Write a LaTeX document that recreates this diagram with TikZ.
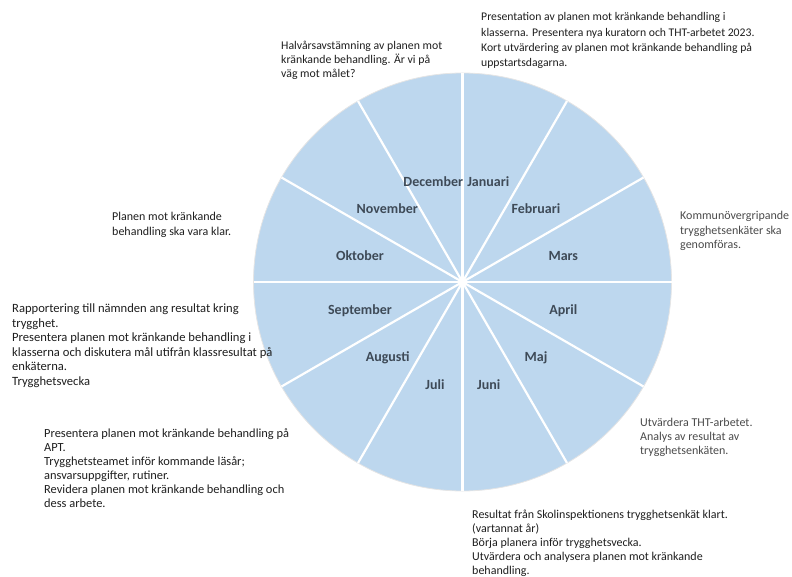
\documentclass[tikz,border=0pt]{standalone}
\usepackage{fontspec}
\setmainfont{Carlito}
\definecolor{wheel}{HTML}{BDD7EE}
\definecolor{monthc}{HTML}{3E4A57}
\definecolor{notec}{HTML}{1E1E1E}
\definecolor{notegray}{HTML}{4A4A4A}
\begin{document}
\begin{tikzpicture}[x=1pt,y=-1pt,
  note/.style={anchor=north west, inner sep=0pt, align=left, text=notec,
    font=\fontsize{12}{14.5}\selectfont},
  month/.style={inner sep=0pt, text=monthc, font=\fontsize{14}{16}\selectfont\bfseries},
  spoke/.style={white, line width=2.2pt}]
\useasboundingbox (0,0) rectangle (792,577);
\coordinate (c) at (462.5,282);
\fill[wheel, draw=white!80!gray, line width=0.8pt] (c) circle (209);
\foreach \a in {0,30,...,330}{\draw[spoke] (c) -- ++(\a:209);}
% months
\node[month] (dec) at (433.3,181.7) {December};
\node[month] (jan) at (488.3,181.7) {Januari};
\node[month] (feb) at (536,208.3) {Februari};
\node[month] (nov) at (387.3,208.3) {November};
\node[month] (okt) at (360,255.7) {Oktober};
\node[month] (mar) at (563.3,255.7) {Mars};
\node[month] (sep) at (360,310.7) {September};
\node[month] (apr) at (563.3,310.7) {April};
\node[month] (aug) at (387.7,357.3) {Augusti};
\node[month] (maj) at (536,357.3) {Maj};
\node[month] (jul) at (435,385) {Juli};
\node[month] (jun) at (488.7,385) {Juni};
% notes
\node[note, font=\fontsize{11.7}{15.2}\selectfont] (n1) at (481,12.5) {Presentation av planen mot kränkande behandling i\\klasserna. Presentera nya kuratorn och THT-arbetet 2023.\\Kort utvärdering av planen mot kränkande behandling på\\uppstartsdagarna.};
\node[note, font=\fontsize{11.8}{14.2}\selectfont] (n2) at (281,40.5) {Halvårsavstämning av planen mot\\kränkande behandling. Är vi på\\väg mot målet?};
\node[note] (n3) at (112,212) {Planen mot kränkande\\behandling ska vara klar.};
\node[note, font=\fontsize{12.6}{14.6}\selectfont] (n4) at (12,303.5) {Rapportering till nämnden ang resultat kring\\trygghet.\\Presentera planen mot kränkande behandling i\\klasserna och diskutera mål utifrån klassresultat på\\enkäterna.\\Trygghetsvecka};
\node[note, font=\fontsize{12.4}{14}\selectfont] (n5) at (44,428.5) {Presentera planen mot kränkande behandling på\\APT.\\Trygghetsteamet inför kommande läsår;\\ansvarsuppgifter, rutiner.\\Revidera planen mot kränkande behandling och\\dess arbete.};
\node[note, text=notegray] (n6) at (680,211) {Kommunövergripande\\trygghetsenkäter ska\\genomföras.};
\node[note, text=notegray, font=\fontsize{12}{14}\selectfont] (n7) at (640,417.5) {Utvärdera THT-arbetet.\\Analys av resultat av\\trygghetsenkäten.};
\node[note, font=\fontsize{12}{14}\selectfont] (n8) at (472,509.5) {Resultat från Skolinspektionens trygghetsenkät klart.\\(vartannat år)\\Börja planera inför trygghetsvecka.\\Utvärdera och analysera planen mot kränkande\\behandling.};
\end{tikzpicture}
\end{document}
